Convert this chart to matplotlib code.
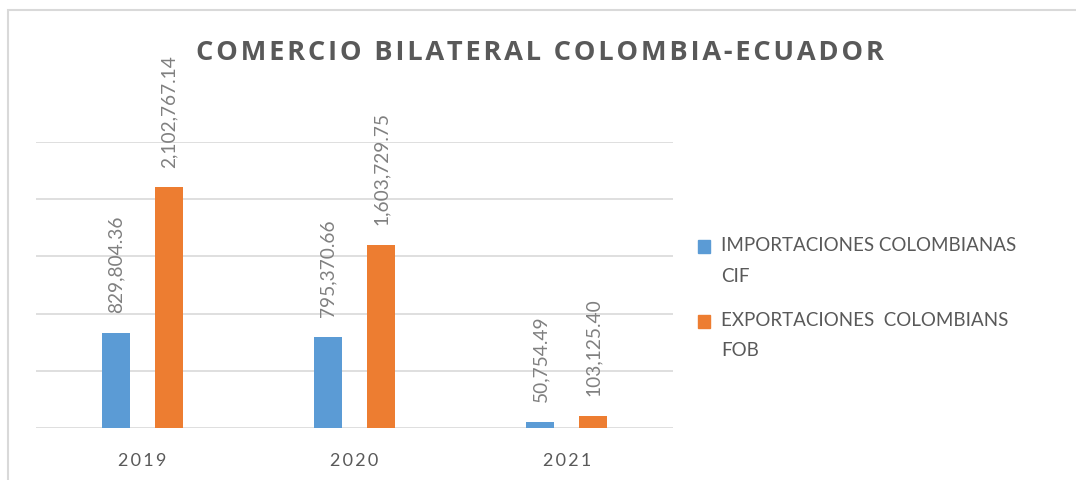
import matplotlib.pyplot as plt
from matplotlib.patches import Rectangle
import numpy as np

years = ['2019', '2020', '2021']
importaciones = [829804.36, 795370.66, 50754.49]
exportaciones = [2102767.14, 1603729.75, 103125.40]
series_names = ['IMPORTACIONES COLOMBIANAS\nCIF', 'EXPORTACIONES  COLOMBIANS\nFOB']
colors = ['#5B9BD5', '#ED7D31']
title = 'COMERCIO BILATERAL COLOMBIA-ECUADOR'

plt.rcParams['font.family'] = ['Lato', 'DejaVu Sans']


def spaced(s, sep='\u200a'):
    # imitate Excel's letter spacing
    return sep.join(s)


W, H = 1076, 481
fig = plt.figure(figsize=(W / 100, H / 100), dpi=100)

# outer chart border (only top and left visible in the crop)
fig.patches.append(Rectangle((8 / W, -0.2), 1.2, 1.2 - 11 / H, transform=fig.transFigure,
                             fill=False, edgecolor='#d9d9d9', linewidth=1.5, zorder=0))

ax = fig.add_axes([36 / W, 1 - 429 / H, (673 - 36) / W, (429 - 143) / H])

x = np.arange(len(years))
off = 0.125
w = 0.132
b1 = ax.bar(x - off, importaciones, w, color=colors[0], zorder=2)
b2 = ax.bar(x + off, exportaciones, w, color=colors[1], zorder=2)

for bars, vals in [(b1, importaciones), (b2, exportaciones)]:
    for rect, v in zip(bars, vals):
        ax.annotate(f'{v:,.2f}', (rect.get_x() + rect.get_width() / 2, v),
                    xytext=(0, 15), textcoords='offset points', rotation=90,
                    ha='center', va='bottom', fontsize=13.8, color='#808080',
                    annotation_clip=False)

ax.set_xlim(-0.5, 2.5)
ax.set_ylim(0, 2500000)
ax.set_yticks(np.arange(0, 2500001, 500000))
ax.yaxis.grid(True, color='#d9d9d9', linewidth=1.2)
ax.set_axisbelow(True)
ax.tick_params(left=False, bottom=False, labelleft=False)
ax.set_xticks(x)
ax.set_xticklabels([spaced(y, '\u2009') for y in years], fontsize=13, color='#595959')
ax.tick_params(axis='x', pad=14)
for s in ax.spines.values():
    s.set_visible(False)

fig.text(540 / W, 1 - 53 / H, spaced(title),
         ha='center', va='center', fontsize=19.6, fontweight='bold', color='#595959',
         family=['Open Sans', 'DejaVu Sans'])

# legend
for i, (name, c) in enumerate(zip(series_names, colors)):
    yc = [247.5, 322][i]
    fig.patches.append(Rectangle((698 / W, 1 - (yc + 6.5) / H), 12 / W, 13 / H,
                                 transform=fig.transFigure, color=c))
    fig.text(721 / W, 1 - (yc - 10) / H, name, ha='left', va='top', fontsize=13.5,
             color='#595959', linespacing=1.95)

fig.savefig('out.png', dpi=100)
